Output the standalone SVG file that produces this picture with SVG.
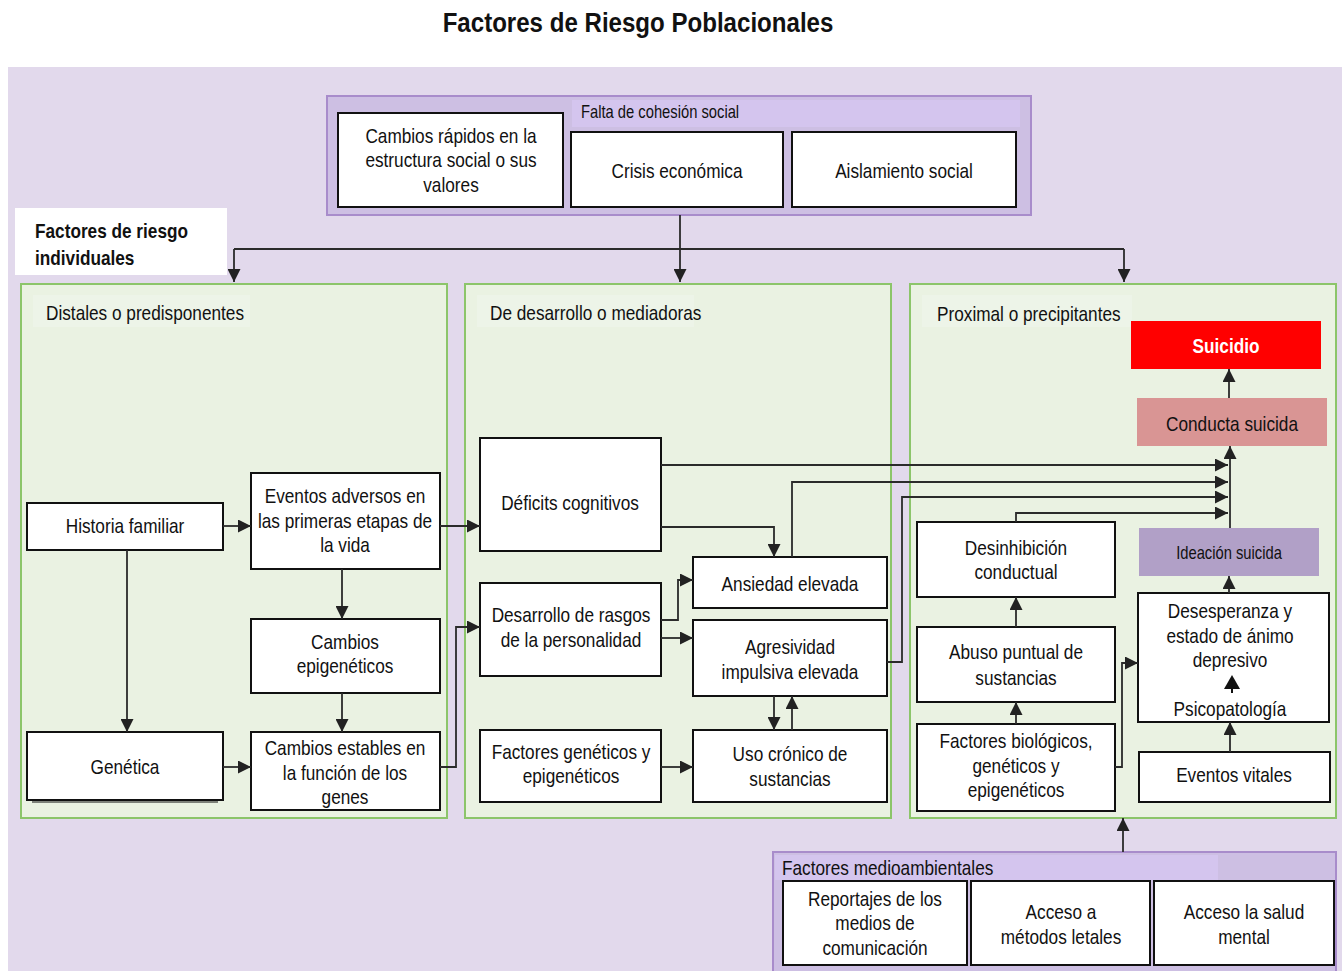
<svg xmlns="http://www.w3.org/2000/svg" width="1342" height="971" viewBox="0 0 1342 971">
<style>
text{font-family:"Liberation Sans",Arial,sans-serif;fill:#111;}
.t{font-size:21px;text-anchor:middle;}
.lft{font-size:21px;}
.s{font-size:18px;}
.b{font-weight:bold;}
.box{fill:#fff;stroke:#111;stroke-width:2;}
.panel{fill:#eaf2e2;stroke:#8cc56a;stroke-width:2;}
.grp{fill:#cdbfe3;stroke:#a88ccb;stroke-width:2;}
.strip{fill:#d4c5ee;}
.c{fill:none;stroke:#2b2b2b;stroke-width:1.8;marker-end:url(#ah);}
.l{fill:none;stroke:#2b2b2b;stroke-width:1.8;}
</style>
<defs>
<marker id="ah" markerUnits="userSpaceOnUse" markerWidth="14" markerHeight="13" refX="13" refY="6.5" orient="auto" viewBox="0 0 14 13">
<path d="M0,0 L13,6.5 L0,13 z" fill="#222"/>
</marker>
</defs>
<rect width="1342" height="971" fill="#fff"/>
<rect x="8" y="67" width="1334" height="904" fill="#e2d9ec"/>
<text transform="translate(638,32) scale(0.86,1)" class="t b" style="font-size:28px">Factores de Riesgo Poblacionales</text>

<g id="falta-cohesion">
<rect x="327" y="96" width="704" height="119" class="grp"/>
<rect x="572" y="100" width="448" height="27" class="strip"/>
<text transform="translate(581,118) scale(0.82,1)" class="s">Falta de cohesión social</text>
</g>
<g id="cambios-rapidos">
<rect x="338" y="113" width="225" height="94" class="box"/>
<text class="t" transform="translate(451,143) scale(0.82,1)">Cambios rápidos en la</text>
<text class="t" transform="translate(451,167) scale(0.82,1)">estructura social o sus</text>
<text class="t" transform="translate(451,192) scale(0.82,1)">valores</text>
</g>
<g id="crisis">
<rect x="571" y="132" width="212" height="75" class="box"/>
<text class="t" transform="translate(677,178) scale(0.82,1)">Crisis económica</text>
</g>
<g id="aislamiento">
<rect x="792" y="132" width="224" height="75" class="box"/>
<text class="t" transform="translate(904,178) scale(0.82,1)">Aislamiento social</text>
</g>

<g id="individuales">
<rect x="15" y="208" width="212" height="67" fill="#fff"/>
<text transform="translate(35,238) scale(0.82,1)" class="b" style="font-size:21px">Factores de riesgo</text>
<text transform="translate(35,265) scale(0.82,1)" class="b" style="font-size:21px">individuales</text>
</g>

<g id="panel-distales">
<rect x="21" y="284" width="426" height="534" class="panel"/>
<rect x="33" y="295" width="217" height="32" fill="#edf4e8"/>
<text transform="translate(46,320) scale(0.82,1)" class="lft">Distales o predisponentes</text>
</g>
<g id="panel-desarrollo">
<rect x="465" y="284" width="426" height="534" class="panel"/>
<rect x="477" y="295" width="217" height="32" fill="#edf4e8"/>
<text transform="translate(490,320) scale(0.82,1)" class="lft">De desarrollo o mediadoras</text>
</g>
<g id="panel-proximal">
<rect x="910" y="284" width="426" height="534" class="panel"/>
<rect x="922" y="295" width="210" height="32" fill="#edf4e8"/>
<text transform="translate(937,321) scale(0.82,1)" class="lft">Proximal o precipitantes</text>
</g>

<g id="historia">
<rect x="27" y="503" width="196" height="47" class="box"/>
<text class="t" transform="translate(125,533) scale(0.82,1)">Historia familiar</text>
</g>
<g id="eventos-adversos">
<rect x="251" y="473" width="189" height="96" class="box"/>
<text class="t" transform="translate(345,503) scale(0.82,1)">Eventos adversos en</text>
<text class="t" transform="translate(345,528) scale(0.82,1)">las primeras etapas de</text>
<text class="t" transform="translate(345,552) scale(0.82,1)">la vida</text>
</g>
<g id="cambios-epi">
<rect x="251" y="619" width="189" height="74" class="box"/>
<text class="t" transform="translate(345,649) scale(0.82,1)">Cambios</text>
<text class="t" transform="translate(345,673) scale(0.82,1)">epigenéticos</text>
</g>
<g id="genetica">
<rect x="27" y="732" width="196" height="68" class="box"/>
<line x1="32" y1="802" x2="218" y2="802" stroke="#111" stroke-width="1"/>
<text class="t" transform="translate(125,774) scale(0.82,1)">Genética</text>
</g>
<g id="cambios-estables">
<rect x="251" y="732" width="189" height="78" class="box"/>
<text class="t" transform="translate(345,755) scale(0.82,1)">Cambios estables en</text>
<text class="t" transform="translate(345,780) scale(0.82,1)">la función de los</text>
<text class="t" transform="translate(345,804) scale(0.82,1)">genes</text>
</g>

<g id="deficits">
<rect x="480" y="438" width="181" height="113" class="box"/>
<text class="t" transform="translate(570,510) scale(0.82,1)">Déficits cognitivos</text>
</g>
<g id="rasgos">
<rect x="480" y="583" width="181" height="93" class="box"/>
<text class="t" transform="translate(571,622) scale(0.82,1)">Desarrollo de rasgos</text>
<text class="t" transform="translate(571,647) scale(0.82,1)">de la personalidad</text>
</g>
<g id="factores-gen">
<rect x="480" y="730" width="181" height="72" class="box"/>
<text class="t" transform="translate(571,759) scale(0.82,1)">Factores genéticos y</text>
<text class="t" transform="translate(571,783) scale(0.82,1)">epigenéticos</text>
</g>
<g id="ansiedad">
<rect x="693" y="557" width="194" height="51" class="box"/>
<text class="t" transform="translate(790,591) scale(0.82,1)">Ansiedad elevada</text>
</g>
<g id="agresividad">
<rect x="693" y="620" width="194" height="76" class="box"/>
<text class="t" transform="translate(790,654) scale(0.82,1)">Agresividad</text>
<text class="t" transform="translate(790,679) scale(0.82,1)">impulsiva elevada</text>
</g>
<g id="uso-cronico">
<rect x="693" y="730" width="194" height="72" class="box"/>
<text class="t" transform="translate(790,761) scale(0.82,1)">Uso crónico de</text>
<text class="t" transform="translate(790,786) scale(0.82,1)">sustancias</text>
</g>

<g id="suicidio">
<rect x="1131" y="321" width="190" height="48" fill="#ff0000"/>
<text class="t b" transform="translate(1226,353) scale(0.82,1)" style="fill:#fff">Suicidio</text>
</g>
<g id="conducta">
<rect x="1137" y="398" width="190" height="48" fill="#d99594"/>
<text class="t" transform="translate(1232,431) scale(0.82,1)">Conducta suicida</text>
</g>
<g id="ideacion">
<rect x="1139" y="528" width="180" height="48" fill="#b1a0c7"/>
<text class="t" transform="translate(1229,559) scale(0.82,1)" style="font-size:18px">Ideación suicida</text>
</g>
<g id="desesperanza">
<rect x="1138" y="593" width="191" height="129" class="box"/>
<text class="t" transform="translate(1230,618) scale(0.82,1)">Desesperanza y</text>
<text class="t" transform="translate(1230,643) scale(0.82,1)">estado de ánimo</text>
<text class="t" transform="translate(1230,667) scale(0.82,1)">depresivo</text>
<path d="M1232,675 L1240,689 L1224,689 z" fill="#111"/>
<line x1="1232" y1="688" x2="1232" y2="693" stroke="#111" stroke-width="2"/>
<text class="t" transform="translate(1230,716) scale(0.82,1)">Psicopatología</text>
</g>
<g id="eventos-vitales">
<rect x="1139" y="752" width="191" height="50" class="box"/>
<text class="t" transform="translate(1234,782) scale(0.82,1)">Eventos vitales</text>
</g>
<g id="desinhibicion">
<rect x="917" y="522" width="198" height="75" class="box"/>
<text class="t" transform="translate(1016,555) scale(0.82,1)">Desinhibición</text>
<text class="t" transform="translate(1016,579) scale(0.82,1)">conductual</text>
</g>
<g id="abuso">
<rect x="917" y="627" width="198" height="75" class="box"/>
<text class="t" transform="translate(1016,659) scale(0.82,1)">Abuso puntual de</text>
<text class="t" transform="translate(1016,685) scale(0.82,1)">sustancias</text>
</g>
<g id="factores-bio">
<rect x="917" y="724" width="198" height="87" class="box"/>
<text class="t" transform="translate(1016,748) scale(0.82,1)">Factores biológicos,</text>
<text class="t" transform="translate(1016,773) scale(0.82,1)">genéticos y</text>
<text class="t" transform="translate(1016,797) scale(0.82,1)">epigenéticos</text>
</g>

<g id="medioambientales">
<rect x="773" y="852" width="563" height="125" class="grp"/>
<rect x="775" y="855" width="443" height="25" class="strip"/>
<text transform="translate(782,875) scale(0.82,1)" class="lft">Factores medioambientales</text>
</g>
<g id="reportajes">
<rect x="783" y="881" width="184" height="84" class="box"/>
<text class="t" transform="translate(875,906) scale(0.82,1)">Reportajes de los</text>
<text class="t" transform="translate(875,930) scale(0.82,1)">medios de</text>
<text class="t" transform="translate(875,955) scale(0.82,1)">comunicación</text>
</g>
<g id="acceso-metodos">
<rect x="971" y="881" width="179" height="84" class="box"/>
<text class="t" transform="translate(1061,919) scale(0.82,1)">Acceso a</text>
<text class="t" transform="translate(1061,944) scale(0.82,1)">métodos letales</text>
</g>
<g id="acceso-salud">
<rect x="1154" y="881" width="180" height="84" class="box"/>
<text class="t" transform="translate(1244,919) scale(0.82,1)">Acceso la salud</text>
<text class="t" transform="translate(1244,944) scale(0.82,1)">mental</text>
</g>

<g id="connectors">
<path class="l" d="M234,249 H1124"/>
<path class="c" d="M680,215 V282"/>
<path class="c" d="M234,249 V282"/>
<path class="c" d="M1124,249 V282"/>
<path class="c" d="M223,526 H251"/>
<path class="c" d="M127,550 V732"/>
<path class="c" d="M342,569 V619"/>
<path class="c" d="M342,693 V732"/>
<path class="c" d="M223,767 H251"/>
<path class="c" d="M440,526 H480"/>
<path class="c" d="M440,767 H456 V627 H480"/>
<path class="c" d="M661,527 H774 V557"/>
<path class="c" d="M661,620 H678 V580 H693"/>
<path class="c" d="M661,638 H693"/>
<path class="c" d="M661,767 H693"/>
<path class="c" d="M774,696 V730"/>
<path class="c" d="M792,730 V696"/>
<path class="c" d="M661,465 H1228"/>
<path class="c" d="M792,557 V482 H1228"/>
<path class="c" d="M887,662 H902 V497 H1228"/>
<path class="c" d="M1016,522 V513 H1228"/>
<path class="c" d="M1230,528 V446"/>
<path class="c" d="M1229,398 V369"/>
<path class="c" d="M1229,593 V576"/>
<path class="c" d="M1230,752 V722"/>
<path class="c" d="M1016,627 V597"/>
<path class="c" d="M1016,724 V702"/>
<path class="c" d="M1115,767 H1122 V663 H1138"/>
<path class="c" d="M1123,852 V818"/>
</g>
</svg>
